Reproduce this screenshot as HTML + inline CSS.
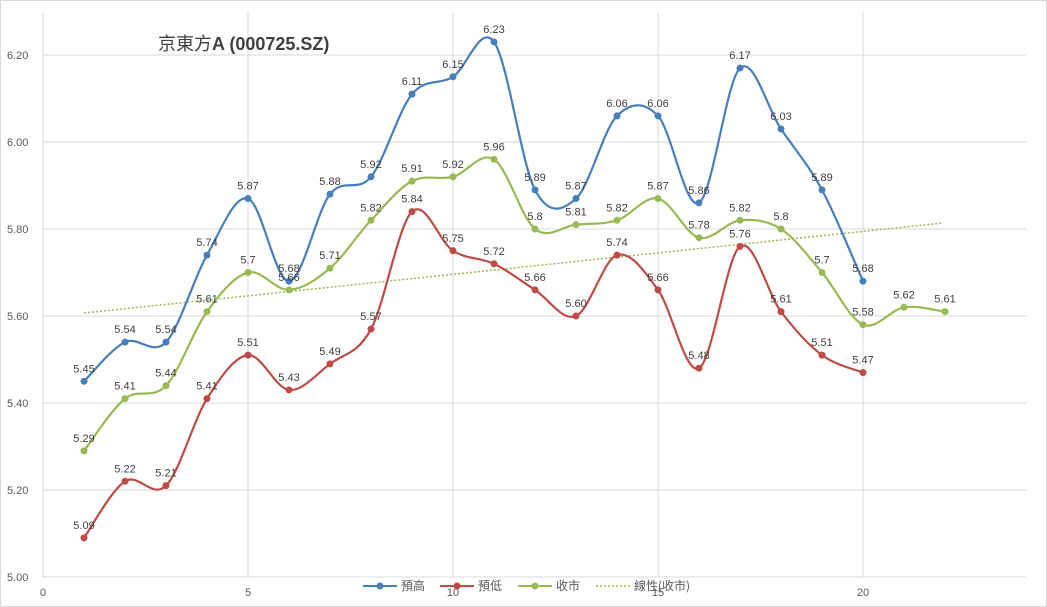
<!DOCTYPE html>
<html><head><meta charset="utf-8"><style>
body{margin:0;background:#fff;}
svg{display:block;font-family:"Liberation Sans","Noto Sans CJK TC",sans-serif;}
</style></head><body>
<svg id="c" width="1047" height="607" xmlns="http://www.w3.org/2000/svg">
<rect x="0.5" y="0.5" width="1046" height="606" fill="#fff" stroke="#d9d9d9"/>
<g id="grid" stroke="#d9d9d9" stroke-width="1"></g>
<g id="ax" font-size="11" fill="#595959"></g>
<text x="158" y="50" font-size="18" fill="#404040" font-family="'Noto Sans CJK TC','Liberation Sans',sans-serif">京東方<tspan font-weight="bold" font-family="'Liberation Sans',sans-serif">A (000725.SZ)</tspan></text>
<line x1="84" y1="313" x2="943" y2="223" stroke="#9bbb59" stroke-width="1.5" stroke-dasharray="2,2"/>
<g id="series"></g>
<g font-size="12" fill="#595959" font-family="'Noto Sans CJK TC','Liberation Sans',sans-serif">
<line x1="363" y1="586" x2="397" y2="586" stroke="#4a7ebb" stroke-width="2"/><circle cx="380" cy="586" r="3.5" fill="#4a7ebb"/><text x="401" y="590">預高</text>
<line x1="440" y1="586" x2="474" y2="586" stroke="#be4b48" stroke-width="2"/><circle cx="457" cy="586" r="3.5" fill="#be4b48"/><text x="478" y="590">預低</text>
<line x1="518" y1="586" x2="552" y2="586" stroke="#98b954" stroke-width="2"/><circle cx="535" cy="586" r="3.5" fill="#98b954"/><text x="556" y="590">收市</text>
<line x1="596" y1="586" x2="630" y2="586" stroke="#9bbb59" stroke-width="1.5" stroke-dasharray="2,2"/><text x="634" y="590">線性(收市)</text>
</g>
</svg>
<script>
const px=x=>43+41*x, py=v=>577-(v-5)*435;
const ns="http://www.w3.org/2000/svg";
function el(p,t,a,txt){const e=document.createElementNS(ns,t);for(const k in a)e.setAttribute(k,a[k]);if(txt!=null)e.textContent=txt;p.appendChild(e);return e;}
const g=document.getElementById('grid'),ax=document.getElementById('ax'),s=document.getElementById('series');
for(let i=1;i<=6;i++){const y=py(5+i*0.2);el(g,'line',{x1:43,x2:1027,y1:y,y2:y});}
for(let i=0;i<=4;i++){const x=px(i*5);el(g,'line',{x1:x,x2:x,y1:12,y2:577});}
el(g,'line',{x1:43,x2:1027,y1:577,y2:577});
for(let i=0;i<=6;i++){const v=5+i*0.2;el(ax,'text',{x:7,y:py(v)+4},v.toFixed(2));}
for(let i=0;i<=4;i++){el(ax,'text',{x:px(i*5),y:596,'text-anchor':'middle'},String(i*5));}
const H=[5.45,5.54,5.54,5.74,5.87,5.68,5.88,5.92,6.11,6.15,6.23,5.89,5.87,6.06,6.06,5.86,6.17,6.03,5.89,5.68];
const L=[5.09,5.22,5.21,5.41,5.51,5.43,5.49,5.57,5.84,5.75,5.72,5.66,5.60,5.74,5.66,5.48,5.76,5.61,5.51,5.47];
const C=[5.29,5.41,5.44,5.61,5.7,5.66,5.71,5.82,5.91,5.92,5.96,5.8,5.81,5.82,5.87,5.78,5.82,5.8,5.7,5.58,5.62,5.61];
const CL=["5.29","5.41","5.44","5.61","5.7","5.66","5.71","5.82","5.91","5.92","5.96","5.8","5.81","5.82","5.87","5.78","5.82","5.8","5.7","5.58","5.62","5.61"];
function draw(d,col,lab){
 const p=d.map((v,i)=>[px(i+1),py(v)]);
 let path="M"+p[0][0]+","+p[0][1];
 for(let i=0;i<p.length-1;i++){const p0=p[i-1]||p[i],p1=p[i],p2=p[i+1],p3=p[i+2]||p2;const t=6;
  path+=` C${p1[0]+(p2[0]-p0[0])/t},${p1[1]+(p2[1]-p0[1])/t} ${p2[0]-(p3[0]-p1[0])/t},${p2[1]-(p3[1]-p1[1])/t} ${p2[0]},${p2[1]}`;}
 el(s,'path',{d:path,fill:'none',stroke:col,'stroke-width':2.2});
 p.forEach((q,i)=>{el(s,'circle',{cx:q[0],cy:q[1],r:3.5,fill:col});
  el(s,'text',{x:q[0],y:q[1]-9,'text-anchor':'middle','font-size':11,fill:'#404040'},lab?lab[i]:d[i].toFixed(2));});
}
draw(H,'#4a7ebb');draw(L,'#be4b48');draw(C,'#98b954',CL);
</script>
</body></html>
